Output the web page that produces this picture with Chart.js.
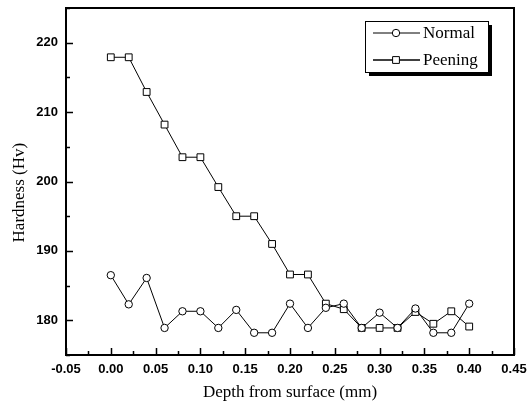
<!DOCTYPE html>
<html>
<head>
<meta charset="utf-8">
<title>Hardness vs depth</title>
<script src="https://cdn.jsdelivr.net/npm/chart.js"></script>
<style>
  html, body { margin: 0; padding: 0; background: #fff; }
  #wrap { width: 531px; height: 401px; }
</style>
</head>
<body>
<div id="wrap"><canvas id="hardnessChart"></canvas></div>
<script>
// depth (mm) for every measurement point
const depths = [0.00, 0.02, 0.04, 0.06, 0.08, 0.10, 0.12, 0.14, 0.16, 0.18, 0.20,
                0.22, 0.24, 0.26, 0.28, 0.30, 0.32, 0.34, 0.36, 0.38, 0.40];

// hardness values
const normalHv = [186.5, 182.3, 186.1, 178.9, 181.3, 181.3, 178.9, 181.5, 178.2, 178.2, 182.4,
                  178.9, 181.8, 182.4, 178.9, 181.1, 178.9, 181.7, 178.2, 178.2, 182.4];
const peeningHv = [217.9, 217.9, 212.9, 208.2, 203.5, 203.5, 199.2, 195.0, 195.0, 191.0, 186.6,
                   186.6, 182.4, 181.6, 178.9, 178.9, 178.9, 181.2, 179.5, 181.3, 179.1];

const xTicks = [-0.05, 0.00, 0.05, 0.10, 0.15, 0.20, 0.25, 0.30, 0.35, 0.40, 0.45];
const yTicks = [180, 190, 200, 210, 220];
const seriesNames = ['Normal', 'Peening'];
const yTitle = 'Hardness (Hv)';

const toPoints = (xs, ys) => xs.map((x, i) => ({ x: x, y: ys[i] }));

// frame, inward ticks, y title and the boxed legend are drawn by hand
const framePlugin = {
  id: 'frame',
  afterDraw(chart) {
    const ctx = chart.ctx;
    const a = chart.chartArea;
    const xs = chart.scales.x;
    const ys = chart.scales.y;
    ctx.save();
    ctx.strokeStyle = '#000';
    ctx.lineWidth = 2;
    ctx.strokeRect(a.left, a.top, a.right - a.left, a.bottom - a.top);

    ctx.lineWidth = 1.5;
    ctx.beginPath();
    // x ticks, major every 0.05, minor in between
    for (let i = 0; i < xTicks.length; i++) {
      const px = Math.round(xs.getPixelForValue(xTicks[i])) + 0.5;
      ctx.moveTo(px, a.bottom); ctx.lineTo(px, a.bottom - 7);
      if (i < xTicks.length - 1) {
        const mx = Math.round(xs.getPixelForValue((xTicks[i] + xTicks[i + 1]) / 2)) + 0.5;
        ctx.moveTo(mx, a.bottom); ctx.lineTo(mx, a.bottom - 4);
      }
    }
    // y ticks, major every 10, minor every 5
    for (let v = ys.min; v <= ys.max; v += 5) {
      const py = Math.round(ys.getPixelForValue(v)) + 0.5;
      const len = yTicks.includes(v) ? 7 : 4;
      ctx.moveTo(a.left, py); ctx.lineTo(a.left + len, py);
    }
    ctx.stroke();

    // y axis title, sits a bit below the middle like the original
    ctx.save();
    ctx.translate(20, ys.getPixelForValue(198.4));
    ctx.rotate(-Math.PI / 2);
    ctx.fillStyle = '#000';
    ctx.font = '17px "Liberation Serif", "Times New Roman", serif';
    ctx.textAlign = 'center';
    ctx.textBaseline = 'middle';
    ctx.fillText(yTitle, 0, 0);
    ctx.restore();

    // legend
    const bw = 123, bh = 51;
    const bx = a.right - 26 - bw;
    const by = a.top + 13;
    ctx.fillStyle = '#000';
    ctx.fillRect(bx + 4, by + 4, bw, bh);
    ctx.fillStyle = '#fff';
    ctx.fillRect(bx, by, bw, bh);
    ctx.lineWidth = 1;
    ctx.strokeRect(bx + 0.5, by + 0.5, bw, bh);

    const rows = [by + 12, by + 39];
    chart.data.datasets.forEach((ds, i) => {
      const y = rows[i];
      ctx.strokeStyle = '#000';
      ctx.lineWidth = i === 0 ? 1 : 1.6;
      ctx.beginPath();
      ctx.moveTo(bx + 8, y); ctx.lineTo(bx + 55, y);
      ctx.stroke();
      ctx.fillStyle = '#fff';
      ctx.lineWidth = 1;
      Chart.helpers.drawPoint(ctx, {
        pointStyle: ds.pointStyle, radius: ds.pointRadius, borderWidth: 1
      }, bx + 31, y);
      ctx.fillStyle = '#000';
      ctx.font = '17px "Liberation Serif", "Times New Roman", serif';
      ctx.textBaseline = 'middle';
      ctx.textAlign = 'left';
      ctx.fillText(ds.label, bx + 58, y + 1);
    });
    ctx.restore();
  }
};

const ctx = document.getElementById('hardnessChart').getContext('2d');
new Chart(ctx, {
  type: 'scatter',
  data: {
    datasets: [
      {
        label: seriesNames[0],
        data: toPoints(depths, normalHv),
        showLine: true,
        borderColor: '#000',
        borderWidth: 1,
        pointStyle: 'circle',
        pointRadius: 3.7,
        pointBackgroundColor: '#fff',
        pointBorderColor: '#000',
        pointBorderWidth: 1
      },
      {
        label: seriesNames[1],
        data: toPoints(depths, peeningHv),
        showLine: true,
        borderColor: '#000',
        borderWidth: 1,
        pointStyle: 'rect',
        pointRadius: 4.8,
        pointBackgroundColor: '#fff',
        pointBorderColor: '#000',
        pointBorderWidth: 1
      }
    ]
  },
  options: {
    responsive: true,
    maintainAspectRatio: false,
    animation: false,
    layout: { padding: { left: 0, right: 17, top: 8, bottom: 0 } },
    plugins: {
      legend: { display: false },
      tooltip: { enabled: false }
    },
    scales: {
      x: {
        type: 'linear',
        min: -0.05,
        max: 0.45,
        afterBuildTicks: (scale) => { scale.ticks = xTicks.map(v => ({ value: v })); },
        afterFit: (scale) => { scale.height = 46; scale.paddingLeft = 0; scale.paddingRight = 0; },
        grid: { display: false, drawTicks: false },
        border: { display: false },
        ticks: {
          color: '#000',
          padding: 8,
          maxRotation: 0,
          font: { family: '"Liberation Sans", Arial, sans-serif', size: 13, weight: 'bold', lineHeight: 1 },
          callback: (v) => Number(v).toFixed(2)
        },
        title: {
          display: true,
          text: 'Depth from surface (mm)',
          color: '#000',
          padding: { top: 6, bottom: 0 },
          font: { family: '"Liberation Serif", "Times New Roman", serif', size: 17, lineHeight: 1 }
        }
      },
      y: {
        min: 175,
        max: 225,
        afterBuildTicks: (scale) => { scale.ticks = yTicks.map(v => ({ value: v })); },
        afterFit: (scale) => { scale.width = 66; scale.paddingTop = 0; scale.paddingBottom = 0; },
        grid: { display: false, drawTicks: false },
        border: { display: false },
        ticks: {
          color: '#000',
          padding: 8,
          font: { family: '"Liberation Sans", Arial, sans-serif', size: 13, weight: 'bold' }
        },
        title: { display: false }
      }
    }
  },
  plugins: [framePlugin]
});
</script>
</body>
</html>
